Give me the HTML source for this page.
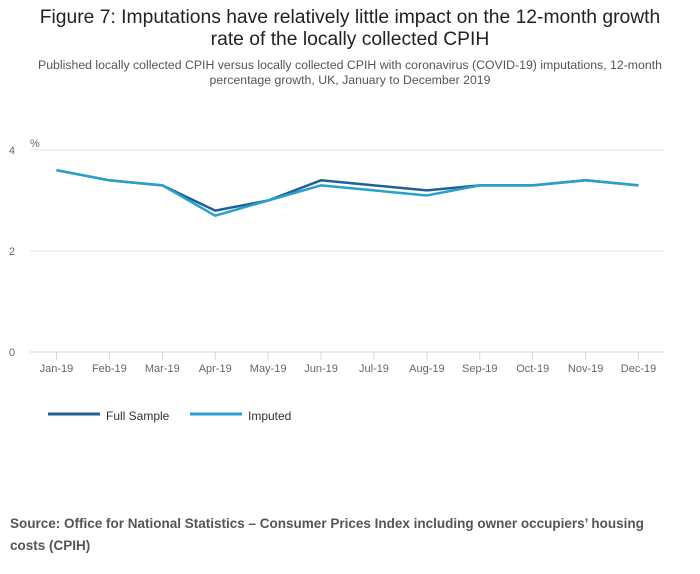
<!DOCTYPE html>
<html><head><meta charset="utf-8">
<style>
body{margin:0;background:#fff;font-family:"Liberation Sans",sans-serif;}
#wrap{position:relative;width:700px;height:574px;overflow:hidden;}
.t{position:absolute;left:0;width:700px;text-align:center;color:#222;}
</style></head><body>
<div id="wrap">
<div class="t" style="top:7px;font-size:19.3px;line-height:22px;color:#222;">Figure 7: Imputations have relatively little impact on the 12-month growth<br>rate of the locally collected CPIH</div>
<div class="t" style="top:58px;font-size:12.3px;line-height:15px;color:#555;">Published locally collected CPIH versus locally collected CPIH with coronavirus (COVID-19) imputations, 12-month<br>percentage growth, UK, January to December 2019</div>
<svg id="chart" width="700" height="574" style="position:absolute;left:0;top:0"></svg>
<div style="position:absolute;left:10px;top:513px;width:672px;font-size:13.5px;line-height:22px;font-weight:bold;color:#555;">Source: Office for National Statistics – Consumer Prices Index including owner occupiers’ housing costs (CPIH)</div>
</div>
<script>
const categories=["Jan-19","Feb-19","Mar-19","Apr-19","May-19","Jun-19","Jul-19","Aug-19","Sep-19","Oct-19","Nov-19","Dec-19"];
const fullSample=[3.6,3.4,3.3,2.8,3.0,3.4,3.3,3.2,3.3,3.3,3.4,3.3];
const imputed=[3.6,3.4,3.3,2.7,3.0,3.3,3.2,3.1,3.3,3.3,3.4,3.3];
const yTicks=[0,2,4];
const NS="http://www.w3.org/2000/svg";
const svg=document.getElementById('chart');
const x0=30,x1=665,yTop=150,yBot=352,yMax=4;
const bw=(x1-x0)/categories.length;
const xs=i=>x0+(i+0.5)*bw;
const ys=v=>yBot-(v/yMax)*(yBot-yTop);
function mk(tag,attrs){const e=document.createElementNS(NS,tag);for(const k in attrs)e.setAttribute(k,attrs[k]);svg.appendChild(e);return e;}
yTicks.forEach(v=>{
 const g=mk('line',{x1:x0,x2:x1,y1:ys(v),y2:ys(v),stroke:v===0?'#ccd6eb':'#e6e6e6','stroke-width':1});
 
 
 const t=mk('text',{x:15,y:ys(v)+4,'font-size':11,fill:'#666','text-anchor':'end'});
 t.textContent=v;
 
 
});
const u=mk('text',{x:30,y:147,'font-size':11,fill:'#666'});u.textContent='%';


categories.forEach((c,i)=>{
 const tk=mk('line',{x1:xs(i),x2:xs(i),y1:yBot,y2:yBot+8,stroke:'#ccd6eb'});
 
 
 const t=mk('text',{x:xs(i),y:yBot+20,'font-size':11,fill:'#666','text-anchor':'middle'});
 t.textContent=c;
 
 
});
function line(data,color,name){
 const p=mk('polyline',{points:data.map((v,i)=>xs(i)+','+ys(v)).join(' '),fill:'none',stroke:color,'stroke-width':2.5,'stroke-linejoin':'round'});
 
 
}
line(fullSample,'#206095','series-full-sample');
line(imputed,'#27a0cc','series-imputed');
[[48,'#206095','Full Sample','legend-full-sample'],[190,'#27a0cc','Imputed','legend-imputed']].forEach(([x,c,l,n])=>{
 const ln=mk('line',{x1:x,x2:x+52,y1:414,y2:414,stroke:c,'stroke-width':3});
 
 
 const t=mk('text',{x:x+58,y:420,'font-size':12,fill:'#333'});
 t.textContent=l;
 
 
});
</script>
</body></html>
